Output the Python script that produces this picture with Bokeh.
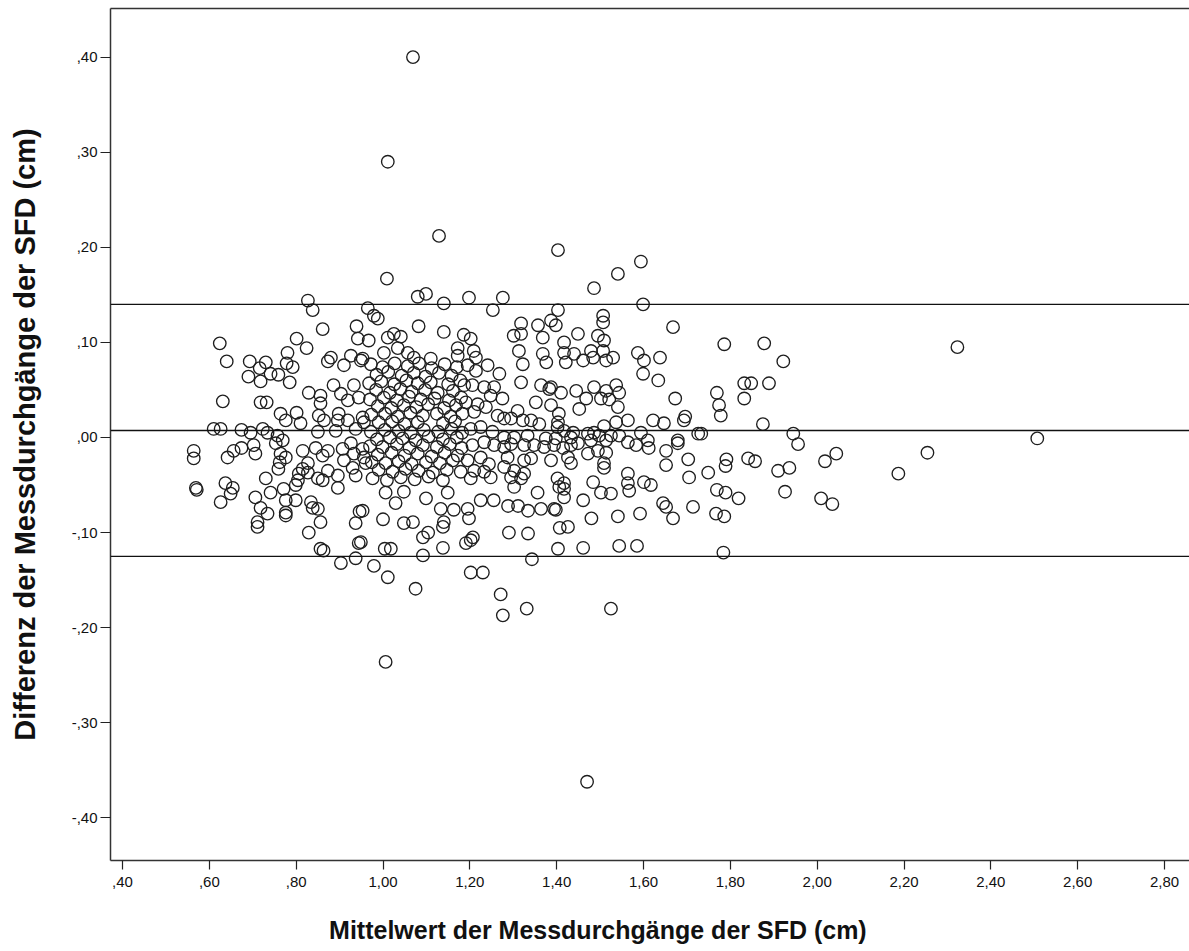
from bokeh.plotting import figure
from bokeh.models import Range1d, Span, FixedTicker, LinearAxis
from bokeh.embed import file_html
from bokeh.resources import INLINE

# Mittelwert der Messdurchgänge (x) and Differenz (y)
mean_cm = [
    # upper outliers / upper edge
    1.069, 1.011, 1.129, 1.009, 1.080, 1.099, 1.140, 1.198, 1.276, 1.253,
    1.403, 1.541, 1.594, 1.486, 1.599, 0.827, 0.838, 0.861, 0.939, 0.942,
    0.965, 0.979, 0.988, 1.082, 1.140, 1.186, 1.202, 1.301, 1.318, 1.318,
    1.357, 1.368, 1.387, 1.398, 1.403, 1.507, 1.507, 1.668, 1.786, 1.878,
    1.922, 2.323,
    # lower outliers / lower edge
    1.006, 1.470, 0.979, 1.011, 1.075, 1.202, 1.230, 1.271, 1.276, 1.331,
    1.343, 1.525, 1.004, 1.018, 1.092, 1.138, 1.191, 1.202, 1.207, 1.403,
    1.461, 1.544, 1.585, 1.784, 0.903, 0.937, 0.944, 0.856, 0.863, 0.829,
    0.856, 0.937, 0.946,
    # right part
    1.769, 1.774, 1.778, 1.832, 1.832, 1.848, 1.889, 1.875, 1.733, 1.945,
    1.956, 2.507, 2.254, 2.187, 2.044, 2.018, 1.791, 1.789, 1.749, 1.841,
    1.857, 1.910, 1.936, 1.769, 1.789, 1.819, 1.926, 2.009, 2.035, 1.767,
    1.786, 1.673, 1.696, 1.726, 1.679, 1.693, 1.652, 1.679, 1.652, 1.703,
    1.705, 1.564, 1.564, 1.567, 1.601, 1.617, 1.484, 1.417, 1.417, 1.417,
    1.502, 1.525, 1.461, 1.398, 1.645, 1.652, 1.714, 1.668, 1.480, 1.541,
    1.592, 1.426, 1.407, 1.638, 1.634, 1.599, 1.587, 1.601, 1.417, 1.449,
    1.495, 1.509, 1.417, 1.440, 1.421, 1.479, 1.484, 1.461, 1.507, 1.514,
    1.530, 1.387, 1.410, 1.445, 1.486, 1.514, 1.537, 1.544, 1.468, 1.452,
    1.502, 1.521, 1.541, 1.405, 1.403, 1.537, 1.564, 1.622, 1.647, 1.509,
    1.486, 1.417, 1.438, 1.594, 1.433, 1.415, 1.433, 1.449, 1.472, 1.479,
    1.498, 1.514, 1.525, 1.544, 1.564, 1.583, 1.610, 1.612, 1.426, 1.433,
    1.472, 1.495, 1.514, 1.509, 1.509, 1.368, 1.313, 1.025, 1.041, 1.011,
    0.967, 1.172, 1.172, 1.209, 1.214, 1.110, 1.071, 1.057, 1.034, 1.002,
    0.953,
    # left part
    0.624, 0.640, 0.693, 0.730, 0.716, 0.690, 0.718, 0.741, 0.759, 0.801,
    0.824, 0.780, 0.778, 0.792, 0.785, 0.880, 0.873, 0.910, 0.926, 0.949,
    0.631, 0.718, 0.732, 0.764, 0.776, 0.801, 0.810, 0.829, 0.856, 0.886,
    0.903, 0.933, 0.944, 0.852, 0.864, 0.898, 0.919, 0.953, 0.610, 0.626,
    0.674, 0.695, 0.723, 0.734, 0.757, 0.850, 0.891, 0.937, 0.956, 0.753,
    0.564, 0.564, 0.642, 0.656, 0.674, 0.702, 0.706, 0.764, 0.762, 0.759,
    0.815, 0.845, 0.861, 0.907, 0.926, 0.933, 0.953, 0.956, 0.910, 0.930,
    0.937, 0.960, 0.569, 0.571, 0.637, 0.654, 0.649, 0.626, 0.730, 0.706,
    0.741, 0.771, 0.776, 0.799, 0.799, 0.718, 0.734, 0.711, 0.711, 0.776,
    0.776, 0.806, 0.815, 0.827, 0.827, 0.861, 0.873, 0.896, 0.896, 0.834,
    0.838, 0.850, 0.856, 0.919, 0.896, 0.769, 0.873, 0.776, 0.804, 0.850,
    # middle, below zero
    0.949, 0.953, 1.000, 1.048, 1.069, 1.092, 1.104, 1.138, 1.140, 1.133,
    1.163, 1.195, 1.198, 1.225, 1.255, 1.288, 1.311, 1.334, 1.364, 1.394,
    1.029, 1.006, 1.048, 1.099, 1.149, 1.290, 1.334, 1.302, 1.406, 1.356,
    # centre-right cluster
    1.195, 1.214, 1.241, 1.268, 1.322, 1.376, 1.318, 1.364, 1.383, 1.187,
    1.206, 1.233, 1.256, 1.248, 1.275, 1.191, 1.218, 1.237, 1.210, 1.310,
    1.352, 1.387, 1.264, 1.279, 1.295, 1.322, 1.341, 1.360, 1.402, 1.202,
    1.225, 1.252, 1.279, 1.302, 1.333, 1.375, 1.398, 1.206, 1.233, 1.256,
    1.279, 1.295, 1.325, 1.348, 1.371, 1.394, 1.195, 1.225, 1.244, 1.287,
    1.325, 1.341, 1.387, 1.210, 1.233, 1.279, 1.302, 1.325, 1.202, 1.248,
    1.295, 1.318, 1.402,
    # dense core around 1.0 - 1.2
    0.972, 0.999, 1.027, 1.057, 1.083, 1.112, 1.142, 1.170,
    0.985, 1.012, 1.043, 1.071, 1.098, 1.129, 1.158,
    0.968, 0.996, 1.026, 1.054, 1.080, 1.110, 1.150, 1.178,
    0.984, 1.016, 1.040, 1.066, 1.097, 1.126, 1.161,
    0.970, 1.002, 1.032, 1.060, 1.087, 1.119, 1.152, 1.180,
    0.988, 1.019, 1.048, 1.077, 1.104, 1.141, 1.168,
    0.973, 1.005, 1.034, 1.063, 1.092, 1.124, 1.156, 1.183,
    0.990, 1.021, 1.050, 1.080, 1.138, 1.166,
    0.972, 1.004, 1.036, 1.064, 1.094, 1.127, 1.158, 1.182,
    0.986, 1.016, 1.045, 1.075, 1.105, 1.138, 1.170,
    0.970, 0.999, 1.032, 1.061, 1.092, 1.124, 1.154, 1.181,
    0.988, 1.020, 1.050, 1.080, 1.112, 1.142, 1.172,
    0.974, 1.006, 1.036, 1.066, 1.099, 1.131, 1.161,
    0.990, 1.022, 1.052, 1.082, 1.115, 1.147, 1.179,
    0.976, 1.009, 1.041, 1.073, 1.105, 1.138,
]

diff_cm = [
    # upper outliers / upper edge
    0.400, 0.290, 0.212, 0.167, 0.148, 0.151, 0.141, 0.147, 0.147, 0.134,
    0.197, 0.172, 0.185, 0.157, 0.140, 0.144, 0.134, 0.114, 0.117, 0.104,
    0.136, 0.128, 0.125, 0.117, 0.111, 0.108, 0.104, 0.107, 0.120, 0.109,
    0.118, 0.105, 0.123, 0.118, 0.134, 0.128, 0.121, 0.116, 0.098, 0.099,
    0.080, 0.095,
    # lower outliers / lower edge
    -0.236, -0.362, -0.135, -0.147, -0.159, -0.142, -0.142, -0.165, -0.187, -0.180,
    -0.128, -0.180, -0.117, -0.117, -0.124, -0.116, -0.111, -0.108, -0.105, -0.117,
    -0.116, -0.114, -0.114, -0.121, -0.132, -0.127, -0.111, -0.117, -0.119, -0.100,
    -0.089, -0.090, -0.078,
    # right part
    0.047, 0.034, 0.023, 0.057, 0.041, 0.057, 0.057, 0.014, 0.004, 0.004,
    -0.007, -0.001, -0.016, -0.038, -0.017, -0.025, -0.023, -0.030, -0.037, -0.022,
    -0.025, -0.035, -0.032, -0.055, -0.058, -0.064, -0.057, -0.064, -0.070, -0.080,
    -0.083, 0.041, 0.022, 0.004, -0.003, 0.018, -0.014, -0.006, -0.029, -0.023,
    -0.042, -0.038, -0.048, -0.056, -0.047, -0.050, -0.047, -0.048, -0.054, -0.063,
    -0.058, -0.059, -0.066, -0.076, -0.069, -0.073, -0.073, -0.085, -0.085, -0.083,
    -0.080, -0.094, -0.095, 0.084, 0.060, 0.067, 0.089, 0.081, 0.100, 0.109,
    0.107, 0.102, 0.089, 0.088, 0.079, 0.091, 0.084, 0.081, 0.091, 0.081,
    0.084, 0.053, 0.047, 0.049, 0.053, 0.049, 0.055, 0.047, 0.041, 0.030,
    0.041, 0.040, 0.032, 0.025, 0.016, 0.016, 0.018, 0.018, 0.015, 0.012,
    0.005, 0.007, 0.005, 0.005, 0.000, -0.011, -0.008, -0.006, 0.004, -0.003,
    0.002, -0.003, 0.002, 0.002, -0.005, -0.008, -0.003, -0.011, -0.021, -0.027,
    -0.017, -0.014, -0.016, -0.027, -0.032, 0.088, 0.091, 0.109, 0.106, 0.105,
    0.102, 0.094, 0.086, 0.091, 0.084, 0.083, 0.084, 0.089, 0.094, 0.089,
    0.083,
    # left part
    0.099, 0.080, 0.080, 0.079, 0.073, 0.064, 0.059, 0.067, 0.066, 0.104,
    0.094, 0.089, 0.078, 0.074, 0.058, 0.084, 0.080, 0.076, 0.086, 0.081,
    0.038, 0.037, 0.037, 0.025, 0.018, 0.026, 0.015, 0.047, 0.044, 0.055,
    0.046, 0.055, 0.042, 0.023, 0.018, 0.025, 0.018, 0.021, 0.009, 0.009,
    0.008, 0.005, 0.009, 0.005, 0.002, 0.006, 0.007, 0.009, 0.016, -0.006,
    -0.014, -0.022, -0.021, -0.014, -0.011, -0.008, -0.017, -0.017, -0.026, -0.033,
    -0.014, -0.011, -0.019, -0.012, -0.006, -0.017, -0.012, -0.021, -0.024, -0.032,
    -0.040, -0.027, -0.053, -0.055, -0.048, -0.053, -0.059, -0.068, -0.043, -0.063,
    -0.058, -0.054, -0.066, -0.050, -0.066, -0.074, -0.080, -0.089, -0.094, -0.079,
    -0.082, -0.038, -0.033, -0.027, -0.037, -0.045, -0.035, -0.040, -0.053, -0.068,
    -0.074, -0.075, 0.036, 0.039, 0.018, -0.003, -0.014, -0.021, -0.045, -0.043,
    # middle, below zero
    -0.110, -0.077, -0.086, -0.090, -0.089, -0.105, -0.100, -0.094, -0.089, -0.075,
    -0.076, -0.075, -0.085, -0.066, -0.066, -0.072, -0.072, -0.077, -0.075, -0.075,
    -0.069, -0.058, -0.057, -0.064, -0.058, -0.100, -0.101, -0.052, -0.052, -0.058,
    # centre-right cluster
    0.076, 0.070, 0.076, 0.067, 0.077, 0.079, 0.058, 0.055, 0.051, 0.055,
    0.055, 0.053, 0.053, 0.044, 0.041, 0.037, 0.035, 0.032, 0.027, 0.028,
    0.037, 0.034, 0.023, 0.020, 0.020, 0.018, 0.018, 0.014, 0.011, 0.009,
    0.011, 0.006, 0.000, 0.000, 0.002, -0.001, -0.001, -0.008, -0.005, -0.008,
    -0.010, -0.007, -0.008, -0.008, -0.010, -0.008, -0.024, -0.021, -0.028, -0.021,
    -0.024, -0.022, -0.024, -0.035, -0.036, -0.031, -0.035, -0.038, -0.043, -0.042,
    -0.042, -0.043, -0.043,
    # dense core around 1.0 - 1.2
    0.077, 0.074, 0.078, 0.075, 0.078, 0.073, 0.077, 0.074,
    0.066, 0.069, 0.065, 0.068, 0.064, 0.068, 0.065,
    0.057, 0.059, 0.056, 0.060, 0.057, 0.058, 0.056, 0.060,
    0.050, 0.047, 0.051, 0.048, 0.050, 0.047, 0.049,
    0.040, 0.042, 0.039, 0.043, 0.040, 0.041, 0.039, 0.042,
    0.033, 0.031, 0.034, 0.032, 0.035, 0.031, 0.034,
    0.024, 0.025, 0.022, 0.026, 0.023, 0.025, 0.022, 0.025,
    0.016, 0.017, 0.014, 0.016, 0.015, 0.017,
    0.006, 0.008, 0.007, 0.005, 0.008, 0.006, 0.009, 0.005,
    -0.002, 0.000, -0.001, -0.003, 0.001, -0.002, 0.000,
    -0.009, -0.010, -0.007, -0.011, -0.008, -0.010, -0.007, -0.011,
    -0.018, -0.016, -0.019, -0.017, -0.020, -0.016, -0.019,
    -0.026, -0.027, -0.025, -0.028, -0.026, -0.027, -0.024,
    -0.034, -0.036, -0.033, -0.035, -0.037, -0.034, -0.036,
    -0.043, -0.045, -0.042, -0.044, -0.041, -0.045,
]

mean_difference = 0.0074
upper_limit = 0.140
lower_limit = -0.125

x_ticks = [0.4, 0.6, 0.8, 1.0, 1.2, 1.4, 1.6, 1.8, 2.0, 2.2, 2.4, 2.6, 2.8]
x_tick_labels = [",40", ",60", ",80", "1,00", "1,20", "1,40", "1,60", "1,80",
                 "2,00", "2,20", "2,40", "2,60", "2,80"]
y_ticks = [-0.4, -0.3, -0.2, -0.1, 0.0, 0.1, 0.2, 0.3, 0.4]
y_tick_labels = ["-,40", "-,30", "-,20", "-,10", ",00", ",10", ",20", ",30", ",40"]

x_title = "Mittelwert der Messdurchgänge der SFD (cm)"
y_title = "Differenz der Messdurchgänge der SFD (cm)"

FONT = "Liberation Sans"

p = figure(width=1189, height=951,
           x_range=Range1d(0.3723, 2.8576), y_range=Range1d(-0.4448, 0.4511),
           output_backend="svg", toolbar_location=None,
           min_border_left=110, min_border_right=0, min_border_top=8, min_border_bottom=91,
           background_fill_color="white", border_fill_color="white",
           outline_line_color=None)
p.grid.visible = False

p.scatter(mean_cm, diff_cm, marker="circle", size=12.5, fill_color=None,
          line_color="#1e1e1e", line_width=1.35)

for loc in (upper_limit, mean_difference, lower_limit):
    p.add_layout(Span(location=loc, dimension="width", line_color="#111111", line_width=1.4))

# bottom axis
xa = p.xaxis[0]
xa.ticker = FixedTicker(ticks=x_ticks)
xa.major_label_overrides = dict(zip(x_ticks, x_tick_labels))
xa.minor_tick_line_color = None
xa.major_tick_in = 0
xa.major_tick_out = 9
xa.major_tick_line_color = "#222222"
xa.major_tick_line_width = 1.2
xa.major_label_standoff = 7
xa.major_label_text_font = FONT
xa.major_label_text_font_size = "15px"
xa.major_label_text_color = "#111111"
xa.axis_line_color = "#333333"
xa.axis_line_width = 1.5
# the title sits left of the frame centre in the reference; trailing no-break
# spaces shift the centred label to the same place
xa.axis_label = x_title + "\u00a0" * 15
xa.axis_label_text_font = FONT
xa.axis_label_text_font_style = "bold"
xa.axis_label_text_font_size = "25px"
xa.axis_label_text_color = "#111111"
xa.axis_label_standoff = 26

# left axis
ya = p.yaxis[0]
ya.ticker = FixedTicker(ticks=y_ticks)
ya.major_label_overrides = dict(zip(y_ticks, y_tick_labels))
ya.minor_tick_line_color = None
ya.major_tick_in = 0
ya.major_tick_out = 10
ya.major_tick_line_color = "#222222"
ya.major_tick_line_width = 1.2
ya.major_label_standoff = 3
ya.major_label_text_font = FONT
ya.major_label_text_font_size = "15px"
ya.major_label_text_color = "#111111"
ya.axis_line_color = "#333333"
ya.axis_line_width = 1.5
ya.axis_label = y_title
ya.axis_label_text_font = FONT
ya.axis_label_text_font_style = "bold"
ya.axis_label_text_font_size = "29px"
ya.axis_label_text_color = "#111111"
ya.axis_label_standoff = 28

# top frame line
top = LinearAxis(ticker=FixedTicker(ticks=[]), major_tick_out=0, major_tick_in=0,
                 minor_tick_line_color=None, axis_line_color="#333333", axis_line_width=1.5,
                 major_label_text_font_size="0px", major_label_standoff=0)
p.add_layout(top, "above")

open("out.html", "w").write(file_html(p, INLINE))
